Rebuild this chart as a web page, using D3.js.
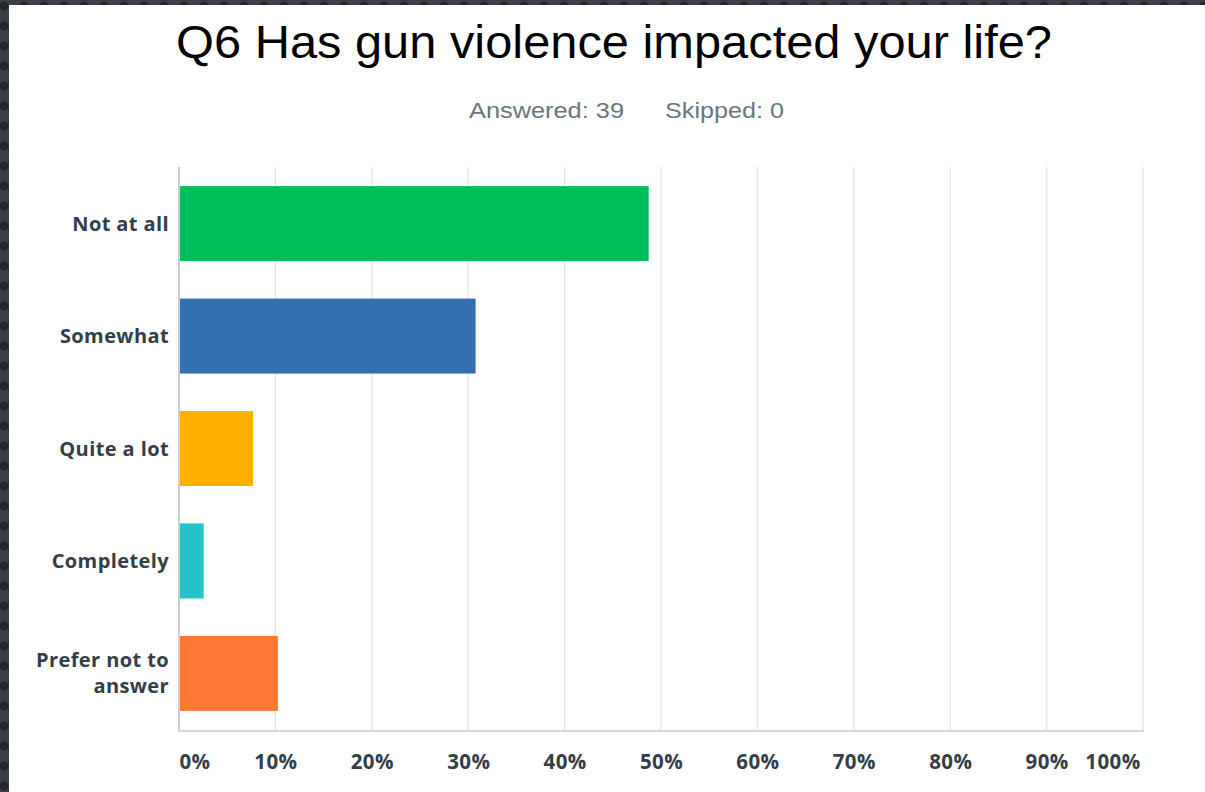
<!DOCTYPE html>
<html>
<head>
<meta charset="utf-8">
<script src="https://cdn.jsdelivr.net/npm/d3@7"></script>
<style>
  html, body { margin: 0; padding: 0; }
  body {
    width: 1205px; height: 792px; overflow: hidden;
    background-color: #3b4047;
    background-image: radial-gradient(circle at 50% 50%, #23272c 0 4px, transparent 5px);
    background-size: 20px 20px;
    background-position: -6px -4px;
  }
  svg { display: block; }
</style>
</head>
<body>
<svg id="chart" width="1205" height="792"></svg>
<script>
const categories = ["Not at all", "Somewhat", "Quite a lot", "Completely", "Prefer not to answer"];
const values = [48.72, 30.77, 7.69, 2.56, 10.26];
const colors = ["#00bf5a", "#3570b3", "#ffb000", "#26c2c9", "#ff7933"];
const tickValues = [0, 10, 20, 30, 40, 50, 60, 70, 80, 90, 100];
const title = "Q6 Has gun violence impacted your life?";
const subtitleAnswered = "Answered: 39";
const subtitleSkipped = "Skipped: 0";

const svg = d3.select("#chart");
svg.append("rect").attr("x", 9).attr("y", 5).attr("width", 1196).attr("height", 787).attr("fill", "#ffffff");

const x = d3.scaleLinear().domain([0, 100]).range([179, 1143]);
const y = d3.scaleBand().domain(categories).range([167, 730]).paddingInner(0.333).paddingOuter(0.17);

svg.append("text").attr("x", 176).attr("y", 58)
  .attr("font-family", "Liberation Sans, Arial, sans-serif").attr("font-size", 45.5).attr("fill", "#000")
  .attr("textLength", 876).attr("lengthAdjust", "spacingAndGlyphs")
  .text(title);

svg.append("text").attr("x", 469).attr("y", 118)
  .attr("font-family", "Liberation Sans, Arial, sans-serif").attr("font-size", 22).attr("fill", "#6a767d")
  .attr("textLength", 155).attr("lengthAdjust", "spacingAndGlyphs")
  .text(subtitleAnswered);
svg.append("text").attr("x", 665).attr("y", 118)
  .attr("font-family", "Liberation Sans, Arial, sans-serif").attr("font-size", 22).attr("fill", "#6a767d")
  .attr("textLength", 119).attr("lengthAdjust", "spacingAndGlyphs")
  .text(subtitleSkipped);

// gridlines
svg.append("g").selectAll("line").data(tickValues.slice(1)).join("line")
  .attr("x1", d => x(d)).attr("x2", d => x(d)).attr("y1", 167).attr("y2", 730)
  .attr("stroke", "#e8e8e8").attr("stroke-width", 1.5);

// bars
svg.append("g").selectAll("rect").data(categories).join("rect")
  .attr("x", x(0)).attr("y", d => y(d)).attr("height", y.bandwidth())
  .attr("width", (d, i) => x(values[i]) - x(0)).attr("fill", (d, i) => colors[i]);

// left axis line and bottom axis line
svg.append("line").attr("x1", x(0)).attr("x2", x(0)).attr("y1", 167).attr("y2", 731)
  .attr("stroke", "#cfcfcf").attr("stroke-width", 2);
svg.append("line").attr("x1", x(0) - 1).attr("x2", x(100) + 1).attr("y1", 731).attr("y2", 731)
  .attr("stroke", "#d6d6d6").attr("stroke-width", 2);

// x tick labels
const xAxis = d3.axisBottom(x).tickValues(tickValues).tickSize(0).tickFormat(d => d + "%");
const gx = svg.append("g").attr("transform", "translate(0,751)").call(xAxis);
gx.select(".domain").remove();
gx.selectAll("text")
  .attr("font-family", "Open Sans, sans-serif").attr("font-weight", "bold").attr("font-size", 20.5)
  .attr("letter-spacing", 0.4)
  .attr("fill", "#333e48")
  .attr("text-anchor", d => d === 0 ? "start" : (d === 100 ? "end" : "middle"))
  .attr("dx", d => d === 100 ? "-3" : "0");

// y labels
const labelG = svg.append("g");
categories.forEach((c, i) => {
  const cy = y(c) + y.bandwidth() / 2;
  const lines = c === "Prefer not to answer" ? ["Prefer not to", "answer"] : [c];
  const t = labelG.append("text").attr("text-anchor", "end")
    .attr("font-family", "Open Sans, sans-serif").attr("font-weight", "bold").attr("font-size", 20)
    .attr("letter-spacing", 0.4)
    .attr("fill", "#333e48");
  lines.forEach((l, j) => {
    t.append("tspan").attr("x", 169)
      .attr("y", cy + 7 + (j - (lines.length - 1) / 2) * 26).text(l);
  });
});
</script>
</body>
</html>
